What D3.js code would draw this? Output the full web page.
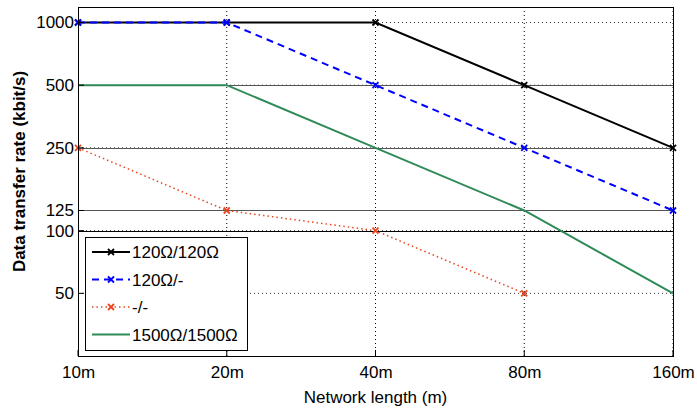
<!DOCTYPE html>
<html>
<head>
<meta charset="utf-8">
<script src="https://cdn.jsdelivr.net/npm/d3@7"></script>
<style>
  html, body { margin: 0; padding: 0; background: #fff; }
  svg { display: block; font-family: "Liberation Sans", Arial, sans-serif; }
</style>
</head>
<body>
<svg id="chart" width="697" height="410"></svg>
<script>
// ---------- data ----------
const lengths = [10, 20, 40, 80, 160];
const xTickLabels = ["10m", "20m", "40m", "80m", "160m"];
const yTicks = [50, 100, 125, 250, 500, 1000];
const yTickLabels = ["50", "100", "125", "250", "500", "1000"];
const refLevels = [100, 125, 250, 500];

const seriesNames = ["120\u03A9/120\u03A9", "120\u03A9/-", "-/-", "1500\u03A9/1500\u03A9"];
const rate120_120 = [1000, 1000, 1000, 500, 250];
const rate120_none = [1000, 1000, 500, 250, 125];
const rateNone_none = [250, 125, 100, 50];
const rate1500_1500 = [500, 500, 250, 125, 50];

// ---------- layout ----------
const W = 697, H = 410;
const m = { left: 78, right: 673, top: 7, bottom: 356 };

const svg = d3.select("#chart");
const x = d3.scaleLog().base(2).domain([10, 160]).range([m.left, m.right]);
const y = d3.scaleLog().domain([25, 1187]).range([m.bottom, m.top]);

const styles = [
  { color: "#000000", width: 2, dash: null, marker: true },
  { color: "#0000ff", width: 2, dash: "7,5", marker: true },
  { color: "#e8461e", width: 1.5, dash: "1.5,3", marker: true },
  { color: "#2e8b57", width: 2, dash: null, marker: false }
];
const seriesData = [rate120_120, rate120_none, rateNone_none, rate1500_1500];

// ---------- grid ----------
const grid = svg.append("g");
lengths.slice(1).forEach(v => {
  grid.append("line")
    .attr("x1", x(v)).attr("x2", x(v))
    .attr("y1", m.top).attr("y2", m.bottom)
    .attr("stroke", "#000").attr("stroke-width", 1)
    .attr("stroke-dasharray", "1,3");
});
yTicks.forEach(v => {
  grid.append("line")
    .attr("x1", m.left).attr("x2", m.right)
    .attr("y1", y(v)).attr("y2", y(v))
    .attr("stroke", "#333").attr("stroke-width", 1)
    .attr("stroke-dasharray", "1,3");
});
refLevels.forEach(v => {
  grid.append("line")
    .attr("x1", m.left).attr("x2", m.right)
    .attr("y1", Math.round(y(v)) + 0.5).attr("y2", Math.round(y(v)) + 0.5)
    .attr("stroke", v === 100 ? "#000" : "#555").attr("stroke-width", 1.2);
});

// ---------- series ----------
const line = d3.line().x(d => x(d[0])).y(d => y(d[1]));
function crossPath(px, py, r) {
  return `M${px - r},${py - r}L${px + r},${py + r}M${px - r},${py + r}L${px + r},${py - r}`;
}
seriesData.forEach((vals, i) => {
  const st = styles[i];
  const pts = vals.map((v, j) => [lengths[j], v]);
  svg.append("path")
    .attr("d", line(pts))
    .attr("fill", "none")
    .attr("stroke", st.color)
    .attr("stroke-width", st.width)
    .attr("stroke-dasharray", st.dash);
  if (st.marker) {
    pts.forEach(p => {
      svg.append("path")
        .attr("d", crossPath(x(p[0]), y(p[1]), 3))
        .attr("stroke", st.color).attr("stroke-width", 1.8).attr("fill", "none");
    });
  }
});

// ---------- axes box & ticks ----------
svg.append("rect")
  .attr("x", m.left + 0.5).attr("y", m.top + 0.5)
  .attr("width", m.right - m.left).attr("height", m.bottom - m.top)
  .attr("fill", "none").attr("stroke", "#000").attr("stroke-width", 1);

const xAxis = d3.axisBottom(x).tickValues(lengths)
  .tickFormat((d, i) => xTickLabels[i]).tickSize(0).tickPadding(10);
const gx = svg.append("g").attr("transform", `translate(0,${m.bottom})`).call(xAxis);
gx.select(".domain").remove();
gx.selectAll("text").attr("font-size", 17).attr("fill", "#000")
  .attr("font-family", "Liberation Sans, Arial, sans-serif");

const yAxis = d3.axisLeft(y).tickValues(yTicks)
  .tickFormat((d, i) => yTickLabels[i]).tickSize(0).tickPadding(4);
const gy = svg.append("g").attr("transform", `translate(${m.left},0)`).call(yAxis);
gy.select(".domain").remove();
gy.selectAll("text").attr("font-size", 17).attr("fill", "#000")
  .attr("font-family", "Liberation Sans, Arial, sans-serif");

// inward tick marks
lengths.forEach(v => {
  svg.append("line").attr("x1", x(v)).attr("x2", x(v))
    .attr("y1", m.bottom).attr("y2", m.bottom - 6).attr("stroke", "#000");
});
yTicks.forEach(v => {
  svg.append("line").attr("x1", m.left).attr("x2", m.left + 6)
    .attr("y1", y(v)).attr("y2", y(v)).attr("stroke", "#000");
});

// ---------- axis labels ----------
svg.append("text")
  .attr("x", (m.left + m.right) / 2).attr("y", 403)
  .attr("text-anchor", "middle").attr("font-size", 17)
  .text("Network length (m)");
svg.append("text")
  .attr("transform", `translate(25,${(m.top + m.bottom) / 2 - 10}) rotate(-90)`)
  .attr("text-anchor", "middle").attr("font-size", 17).attr("font-weight", "bold")
  .text("Data transfer rate (kbit/s)");

// ---------- legend ----------
const lg = svg.append("g");
lg.append("rect")
  .attr("x", 85.5).attr("y", 237.5).attr("width", 162).attr("height", 113)
  .attr("fill", "#fff").attr("stroke", "#000").attr("stroke-width", 1);
seriesNames.forEach((name, i) => {
  const st = styles[i];
  const ly = 252 + i * 27.5;
  lg.append("line")
    .attr("x1", 92).attr("x2", 130).attr("y1", ly).attr("y2", ly)
    .attr("stroke", st.color).attr("stroke-width", st.width)
    .attr("stroke-dasharray", st.dash);
  if (st.marker) {
    lg.append("path").attr("d", crossPath(111, ly, 3))
      .attr("stroke", st.color).attr("stroke-width", 1.8).attr("fill", "none");
  }
  lg.append("text").attr("x", 132).attr("y", ly + 6)
    .attr("font-size", 17).text(name);
});
</script>
</body>
</html>
